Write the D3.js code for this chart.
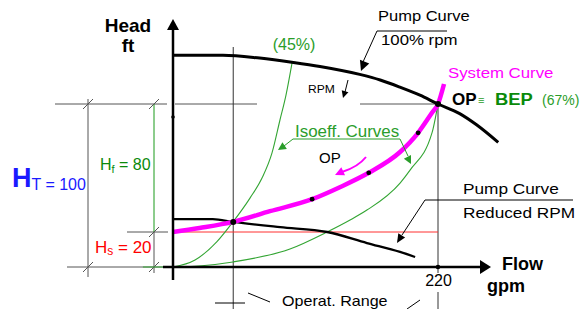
<!DOCTYPE html>
<html>
<head>
<meta charset="utf-8">
<script src="https://cdn.jsdelivr.net/npm/d3@7"></script>
<style>
  body { margin: 0; background: #fff; }
  text { font-family: "Liberation Sans", Arial, sans-serif; }
</style>
</head>
<body>
<svg width="581" height="309"></svg>
<script>
// values: flow in gpm, head in ft
const pumpFlow = [0, 41.5, 72, 100, 122, 155, 172, 188.5, 205, 220, 238, 252, 270];
const pumpHead = [130.5, 130.5, 128.7, 126, 123.5, 118.5, 115, 110.5, 105.5, 100, 94, 87, 76];

const reducedFlow = [0, 33, 50, 89, 128, 161, 188.5, 201];
const reducedHead = [28, 28, 26.3, 23, 20, 13.7, 8.6, 5.7];

const systemFlow = [0, 22, 50, 80.5, 115.5, 138.5, 162.5, 188.5, 203.5, 215, 220, 225];
const systemHead = [20, 22.5, 26.3, 33, 40.5, 48, 57, 70, 82, 94.5, 100, 112.5];

const iso45Flow = [0, 18.3, 36.5, 49.8, 63.9, 73.9, 82.2, 88.8, 93.8, 98.8];
const iso45Head = [0, 4, 14.5, 26.3, 41.2, 53.7, 69.4, 90, 105.6, 125.6];

const iso67Flow = [-25, 0, 49.8, 97.1, 127.9, 147, 161, 188.5, 196.8, 215, 220];
const iso67Head = [0, 0, 2.9, 10.3, 20, 27.5, 33.7, 50.6, 58.7, 81.9, 100];

const pointFlow = [50, 115.5, 162.5, 203.5, 220];
const pointHead = [26.3, 40.5, 57, 82, 100];

const staticHead = 20;
const totalHead = 100;
const frictionHead = 80;
const bepFlow = 220;
const opFlow = 50;
const xTicks = [220];

const svg = d3.select('svg');
const width = +svg.attr('width');
const height = +svg.attr('height');

const x = d3.scaleLinear().domain([0, 220]).range([173, 438]);
// schematic head axis, not linear in the original drawing
const y = d3.scaleLinear().domain([0, 20, 100]).range([267, 232, 104]);

const zip = (a, b) => a.map((v, i) => [v, b[i]]);
const line = d3.line()
  .x(d => x(d[0]))
  .y(d => y(d[1]))
  .curve(d3.curveMonotoneX);

const grey = '#555';
const green = '#2a9d2a';
const darkGreen = '#0a8a0a';
const magenta = '#ff00ff';

function seg(x1, y1, x2, y2, color, w) {
  return svg.append('line')
    .attr('x1', x1).attr('y1', y1)
    .attr('x2', x2).attr('y2', y2)
    .attr('stroke', color)
    .attr('stroke-width', w || 1);
}

function head(tx, ty, fx, fy, len, half, color) {
  const a = Math.atan2(ty - fy, tx - fx);
  const bx = tx - len * Math.cos(a), by = ty - len * Math.sin(a);
  const nx = -Math.sin(a) * half, ny = Math.cos(a) * half;
  svg.append('path')
    .attr('d', `M${tx},${ty}L${bx + nx},${by + ny}L${bx - nx},${by - ny}Z`)
    .attr('fill', color);
}

function label(px, py, str, size, color, weight, sx) {
  return svg.append('text')
    .attr('transform', `translate(${px},${py}) scale(${sx || 1},1)`)
    .attr('font-size', size)
    .attr('font-weight', weight || 'normal')
    .attr('fill', color)
    .text(str);
}

// guide lines
const yTot = y(totalHead), yStat = y(staticHead), y0 = y(0);
seg(55, yTot, 167, yTot, grey);
seg(175, yTot, 257, yTot, grey);
seg(360, yTot, x(bepFlow), yTot, grey);
seg(x(opFlow), 47, x(opFlow), height, '#333');
seg(x(bepFlow), yTot, x(bepFlow), 273, '#333');
seg(x(bepFlow), 292, x(bepFlow), height, '#333');
seg(127, yStat, 168, yStat, grey);
seg(67, y0, 163, y0, grey);

// dimension lines on the left
seg(88, yTot - 5, 88, 277, grey);
seg(154, yTot, 154, yStat, '#1a9a1a');
seg(154, yStat, 154, 273, grey);
[[88, yTot], [88, y0], [154, yTot], [154, yStat], [154, y0]].forEach(([cx, cy]) => {
  seg(cx - 5, cy + 5, cx + 5, cy - 5, grey);
});

// static head line
svg.append('path')
  .attr('d', line([[0, staticHead], [bepFlow, staticHead]]))
  .attr('fill', 'none').attr('stroke', '#ff3030').attr('stroke-width', 1);

// isoefficiency curves
[zip(iso45Flow, iso45Head), zip(iso67Flow, iso67Head)].forEach(d => {
  svg.append('path')
    .attr('d', line(d))
    .attr('fill', 'none')
    .attr('stroke', '#33a533')
    .attr('stroke-width', 1.1);
});

// pump curves
svg.append('path')
  .attr('d', line(zip(pumpFlow, pumpHead)))
  .attr('fill', 'none').attr('stroke', '#000').attr('stroke-width', 3);
svg.append('path')
  .attr('d', line(zip(reducedFlow, reducedHead)))
  .attr('fill', 'none').attr('stroke', '#000').attr('stroke-width', 2.3);

// system curve
svg.append('path')
  .attr('d', line(zip(systemFlow, systemHead)))
  .attr('fill', 'none').attr('stroke', magenta).attr('stroke-width', 4.5);

svg.selectAll('circle.op')
  .data(zip(pointFlow, pointHead))
  .join('circle')
  .attr('class', 'op')
  .attr('cx', d => x(d[0]))
  .attr('cy', d => y(d[1]))
  .attr('r', (d, i) => i === 0 || i === 4 ? 3 : 2.4)
  .attr('fill', '#000');

// axes
seg(x(0), 28, x(0), 280, '#000', 2.5);
head(x(0), 19, x(0), 40, 11, 6, '#000');
seg(163, y0, 482, y0, '#000', 2.5);
head(491, y0, 470, y0, 11, 7, '#000');
svg.append('circle').attr('cx', x(0)).attr('cy', 117).attr('r', 1.8).attr('fill', '#000');

const xAxis = svg.append('g')
  .attr('transform', `translate(0,${y0})`)
  .call(d3.axisBottom(x).tickValues(xTicks).tickSize(0).tickPadding(8));
xAxis.select('.domain').remove();
xAxis.selectAll('text')
  .attr('font-size', 16)
  .attr('font-family', '"Liberation Sans", Arial, sans-serif')
  .attr('fill', '#000');
svg.selectAll('circle.tick')
  .data(xTicks)
  .join('circle')
  .attr('class', 'tick')
  .attr('cx', d => x(d)).attr('cy', y0).attr('r', 2.3).attr('fill', '#000');

// axis titles
label(128, 32, 'Head', 19, '#000', 'bold').attr('text-anchor', 'middle');
label(128, 52, 'ft', 19, '#000', 'bold').attr('text-anchor', 'middle');
label(502, 270, 'Flow', 18, '#000', 'bold');
label(487, 292, 'gpm', 18, '#000', 'bold');

// pump curve 100%
label(378, 21, 'Pump Curve', 15, '#000', 'normal', 1.1);
label(381, 45, '100% rpm', 15, '#000', 'normal', 1.12);
seg(377, 31, 447, 31, '#000');
seg(377, 31, 363, 62, '#000');
head(361, 71, 366, 58, 10, 5, '#000');

label(294, 50, '(45%)', 16, green).attr('text-anchor', 'middle');
label(308, 93, 'RPM', 11, '#000', 'normal', 1.1);
seg(348, 80, 345, 92, '#000');
head(343, 98, 348, 82, 7, 3.5, '#000');

// system curve and BEP
label(448, 78, 'System Curve', 15, magenta, 'normal', 1.12);
label(452, 105, 'OP', 17, '#000', 'bold');
label(478, 104, '\u2261', 11, green);
label(495, 105, 'BEP', 17, darkGreen, 'bold', 1.08);
label(542, 105, '(67%)', 14, green);

// isoefficiency label
label(295, 137, 'Isoeff. Curves', 16, green, 'normal', 1.06);
seg(293, 139, 400, 139, green);
seg(293, 139, 284, 146, green);
head(278, 150, 290, 142, 8, 4, green);
seg(400, 139, 408, 156, green);
head(411, 164, 404, 150, 8, 4, green);

// operating point moves along system curve
label(319, 163, 'OP', 15, '#000');
svg.append('path')
  .attr('d', 'M366,157 Q358,167 342,172')
  .attr('fill', 'none').attr('stroke', magenta).attr('stroke-width', 2);
head(335, 175, 346, 170, 9, 4.5, magenta);

// reduced rpm label
label(463, 194, 'Pump Curve', 15, '#000', 'normal', 1.15);
label(463, 218, 'Reduced RPM', 15, '#000', 'normal', 1.15);
seg(425, 200, 573, 200, '#000');
seg(425, 200, 402, 235, '#000');
head(397, 243, 405, 230, 9, 4, '#000');

// heads on the left
const hf = label(100, 170, '', 16, darkGreen);
hf.append('tspan').text('H');
hf.append('tspan').attr('font-size', 11).attr('dy', 3).text('f');
hf.append('tspan').attr('dy', -3).text(` = ${frictionHead}`);

const ht = label(12, 187, '', 27, '#1a1aff', 'bold');
ht.append('tspan').text('H');
ht.append('tspan').attr('font-size', 16).attr('font-weight', 'normal').attr('dy', 3).text('T');
ht.append('tspan').attr('font-size', 16).attr('font-weight', 'normal').text(` = ${totalHead}`);

const hs = label(95, 253, '', 17, '#ff0000');
hs.append('tspan').text('H');
hs.append('tspan').attr('font-size', 12).attr('dy', 2).text('s');
hs.append('tspan').attr('dy', -2).text(` = ${staticHead}`);

// operating range note at the bottom
label(282, 306, 'Operat. Range', 14, '#000', 'normal', 1.15);
seg(215, 303, 245, 303, '#000');
seg(248, 293, 270, 302, '#000');
seg(407, 309, 420, 300, '#000');
</script>
</body>
</html>
